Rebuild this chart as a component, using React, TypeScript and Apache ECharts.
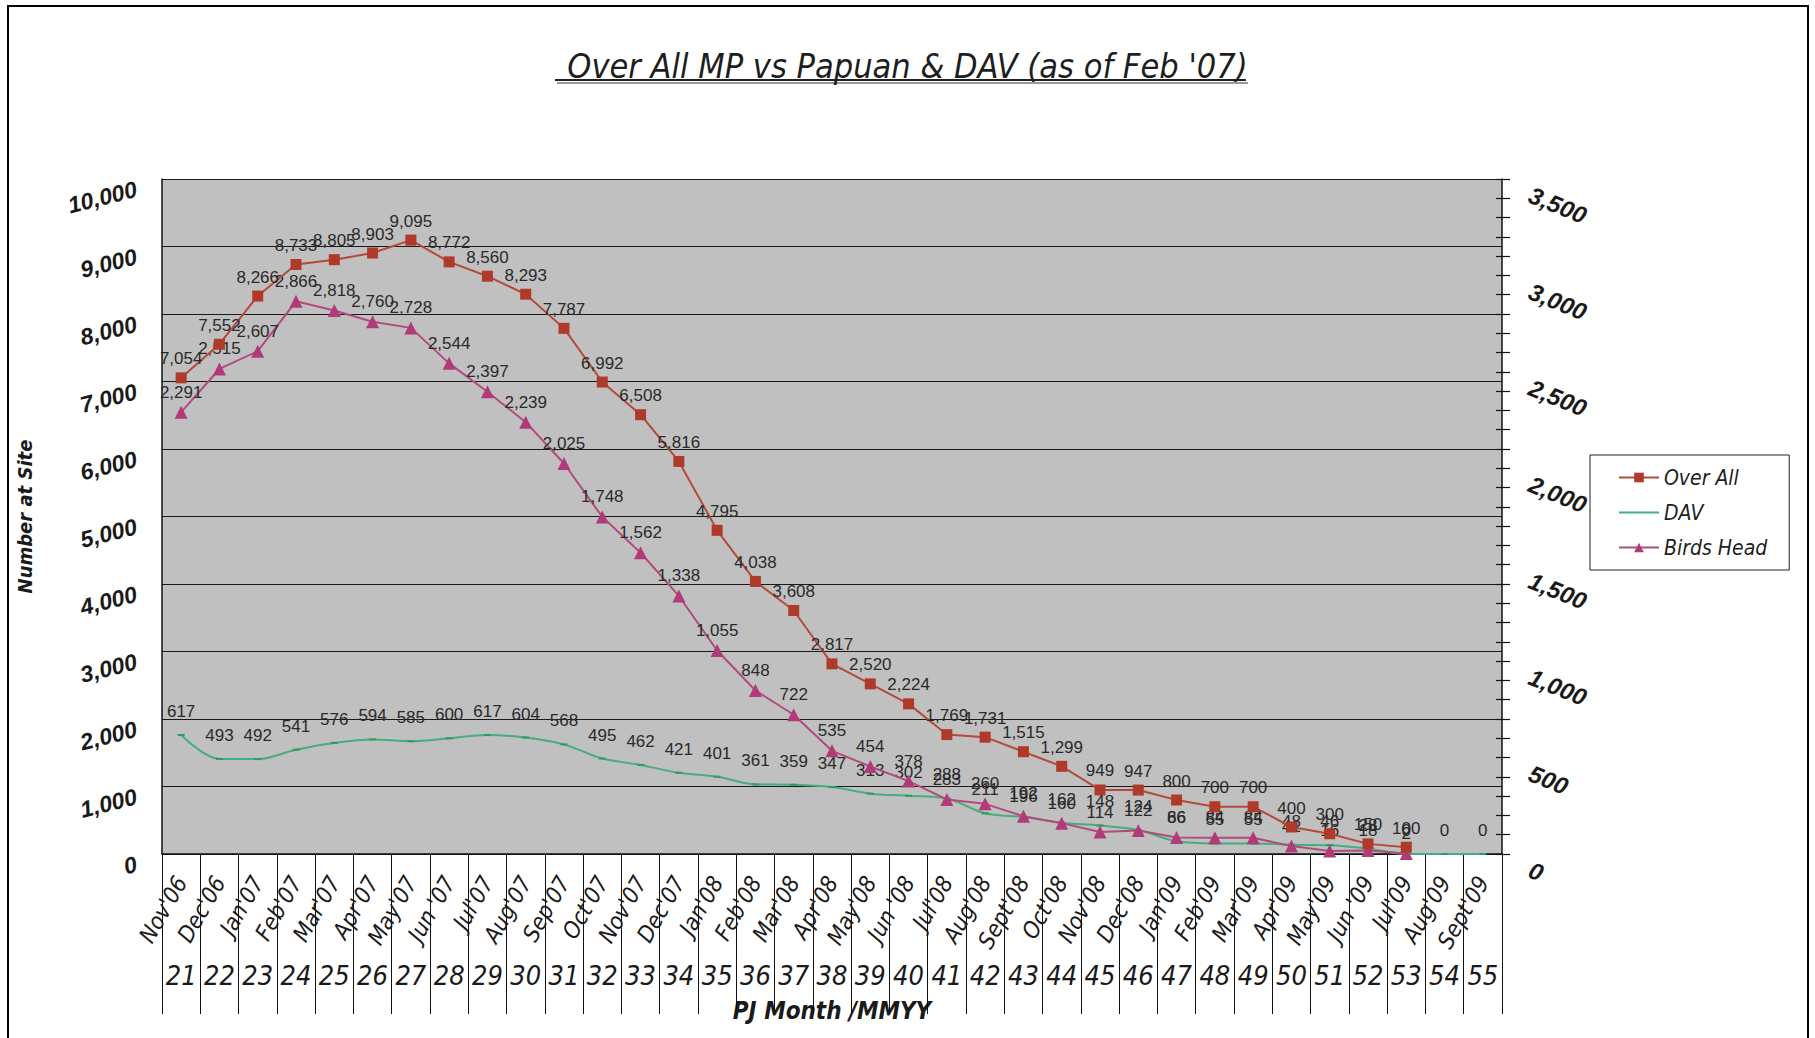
import React, { useEffect, useRef } from "react";
import * as echarts from "echarts";

const categories = [
  "Nov'06", "Dec'06", "Jan'07", "Feb'07", "Mar'07", "Apr'07", "May'07", "Jun '07", "Jul'07",
  "Aug'07", "Sep'07", "Oct'07", "Nov'07", "Dec'07", "Jan'08", "Feb'08", "Mar'08", "Apr'08",
  "May'08", "Jun '08", "Jul'08", "Aug'08", "Sept'08", "Oct'08", "Nov'08", "Dec'08", "Jan'09",
  "Feb'09", "Mar'09", "Apr'09", "May'09", "Jun '09", "Jul'09", "Aug'09", "Sept'09",
];

const pjMonths = [
  "21", "22", "23", "24", "25", "26", "27", "28", "29", "30", "31", "32", "33", "34", "35",
  "36", "37", "38", "39", "40", "41", "42", "43", "44", "45", "46", "47", "48", "49", "50",
  "51", "52", "53", "54", "55",
];

const overAll = [
  7054, 7552, 8266, 8733, 8805, 8903, 9095, 8772, 8560, 8293, 7787, 6992, 6508, 5816, 4795,
  4038, 3608, 2817, 2520, 2224, 1769, 1731, 1515, 1299, 949, 947, 800, 700, 700, 400, 300,
  150, 100, null, null,
];

const dav = [
  617, 493, 492, 541, 576, 594, 585, 600, 617, 604, 568, 495, 462, 421, 401, 361, 359, 347,
  313, 302, 288, 211, 192, 162, 148, 124, 66, 55, 55, 48, 46, 28, 0, 0, 0,
];

const birdsHead = [
  2291, 2515, 2607, 2866, 2818, 2760, 2728, 2544, 2397, 2239, 2025, 1748, 1562, 1338, 1055,
  848, 722, 535, 454, 378, 283, 260, 196, 160, 114, 122, 86, 84, 84, 41, 16, 18, 2, null, null,
];

const NARROW = "'Liberation Sans Narrow', 'Arial Narrow', 'DejaVu Sans Condensed', 'Liberation Sans', sans-serif";
const SANS = "'Liberation Sans', Arial, sans-serif";

const fmt = (v: any) => (v === null || v === undefined ? "" : Number(v).toLocaleString("en-US"));

export default function App() {
  const ref = useRef<HTMLDivElement>(null);

  useEffect(() => {
    const chart = echarts.init(ref.current!, null, { renderer: "svg" });
    const dataLabel = {
      show: true,
      position: "top",
      distance: 5,
      fontSize: 17,
      fontFamily: SANS,
      color: "#2a2a2a",
      formatter: (p: any) => fmt(p.value),
    };
    chart.setOption({
      animation: false,
      backgroundColor: "#ffffff",
      title: {
        text: "Over All MP vs Papuan & DAV (as of Feb '07)",
        left: "center",
        top: 44,
        textStyle: {
          fontFamily: NARROW,
          fontStyle: "italic",
          fontWeight: "normal",
          fontSize: 34,
          color: "#1e1e1e",
        },
      },
      graphic: [
        {
          type: "rect",
          shape: { x: 8, y: 6, width: 1800, height: 1100 },
          style: { fill: "none", stroke: "#000", lineWidth: 2 },
          silent: true,
        },
        {
          type: "line",
          shape: { x1: 555, y1: 80, x2: 1246, y2: 80 },
          style: { stroke: "#222", lineWidth: 2 },
          silent: true,
        },
        {
          type: "line",
          shape: { x1: 557, y1: 83, x2: 1248, y2: 83 },
          style: { stroke: "#9a9a9a", lineWidth: 2 },
          silent: true,
        },
      ],
      legend: {
        orient: "vertical",
        left: 1590,
        top: 455,
        padding: [12, 22, 12, 28],
        itemGap: 14,
        itemWidth: 40,
        itemHeight: 12,
        borderColor: "#222",
        borderWidth: 1,
        backgroundColor: "#fff",
        textStyle: {
          fontFamily: NARROW,
          fontStyle: "italic",
          fontSize: 21,
          color: "#1e1e1e",
        },
        data: [
          { name: "Over All" },
          { name: "DAV", itemStyle: { opacity: 0 } },
          { name: "Birds Head" },
        ],
      },
      grid: {
        left: 162,
        right: 313,
        top: 179,
        bottom: 184,
        show: true,
        backgroundColor: "#C0C0C0",
        borderWidth: 0,
      },
      xAxis: [
        {
          type: "category",
          data: categories,
          boundaryGap: true,
          position: "bottom",
          axisLine: { show: true, lineStyle: { color: "#111", width: 1.5 } },
          axisTick: { show: true, interval: 0, length: 160, lineStyle: { color: "#111", width: 1 } },
          axisLabel: {
            interval: 0,
            rotate: 60,
            margin: 24,
            fontFamily: NARROW,
            fontStyle: "italic",
            fontSize: 23,
            color: "#1a1a1a",
          },
          name: "PJ Month /MMYY",
          nameLocation: "middle",
          nameGap: 145,
          nameTextStyle: {
            fontFamily: NARROW,
            fontStyle: "italic",
            fontWeight: "bold",
            fontSize: 24,
            color: "#1a1a1a",
          },
        },
        {
          type: "category",
          data: pjMonths,
          boundaryGap: true,
          position: "bottom",
          axisLine: { show: false },
          axisTick: { show: false },
          axisLabel: {
            interval: 0,
            margin: 108,
            fontFamily: NARROW,
            fontStyle: "italic",
            fontSize: 27,
            color: "#1a1a1a",
          },
        },
      ],
      yAxis: [
        {
          type: "value",
          min: 0,
          max: 10000,
          interval: 1000,
          position: "left",
          axisLine: { show: true, lineStyle: { color: "#111", width: 1.5 } },
          axisTick: { show: false },
          splitLine: { show: true, lineStyle: { color: "#1a1a1a", width: 1.2 } },
          axisLabel: {
            formatter: (v: number) => "\n" + fmt(v),
            rotate: 14,
            margin: 28,
            lineHeight: 20,
            verticalAlign: "middle",
            fontFamily: SANS,
            fontStyle: "italic",
            fontWeight: "bold",
            fontSize: 23,
            color: "#1a1a1a",
          },
          name: "Number at Site",
          nameLocation: "middle",
          nameGap: 127,
          nameRotate: 90,
          nameTextStyle: {
            fontFamily: NARROW,
            fontStyle: "italic",
            fontWeight: "bold",
            fontSize: 20,
            color: "#1a1a1a",
          },
        },
        {
          type: "value",
          min: 0,
          max: 3500,
          interval: 500,
          position: "right",
          axisLine: { show: true, lineStyle: { color: "#111", width: 1.5 } },
          axisTick: { show: true, length: 8, lineStyle: { color: "#111", width: 1.2 } },
          minorTick: { show: true, splitNumber: 5, length: 8, lineStyle: { color: "#111", width: 1.2 } },
          splitLine: { show: false },
          minorSplitLine: { show: false },
          axisLabel: {
            formatter: (v: number) => "\n" + fmt(v),
            rotate: -22,
            margin: 34,
            align: "left",
            verticalAlign: "middle",
            lineHeight: 32,
            fontFamily: SANS,
            fontStyle: "italic",
            fontWeight: "bold",
            fontSize: 24,
            color: "#1a1a1a",
          },
        },
        {
          type: "value",
          min: 0,
          max: 3500,
          interval: 500,
          position: "right",
          axisLine: { show: false },
          axisTick: { show: true, inside: true, length: 6, lineStyle: { color: "#111", width: 1.2 } },
          minorTick: { show: true, splitNumber: 5, length: 6, lineStyle: { color: "#111", width: 1.2 } },
          splitLine: { show: false },
          axisLabel: { show: false },
        },
      ],
      series: [
        {
          name: "Over All",
          type: "line",
          yAxisIndex: 0,
          data: overAll,
          symbol: "rect",
          symbolSize: 11,
          itemStyle: { color: "#B03A2A" },
          lineStyle: { color: "#B5493A", width: 2 },
          label: dataLabel,
          z: 4,
        },
        {
          name: "DAV",
          type: "line",
          yAxisIndex: 1,
          data: dav,
          smooth: 0.35,
          symbol: "rect",
          symbolSize: [7, 2],
          itemStyle: { color: "#2F9A66" },
          lineStyle: { color: "#45AE7C", width: 2 },
          label: { ...dataLabel, distance: 14 },
          z: 2,
        },
        {
          name: "Birds Head",
          type: "line",
          yAxisIndex: 1,
          data: birdsHead,
          symbol: "triangle",
          symbolSize: 13,
          itemStyle: { color: "#B13A78" },
          lineStyle: { color: "#B34A7E", width: 2 },
          label: dataLabel,
          z: 3,
        },
      ],
    });
    return () => chart.dispose();
  }, []);

  return (
    <div
      ref={ref}
      style={{ position: "absolute", left: 0, top: 0, width: 1815, height: 1038, background: "#fff" }}
    />
  );
}
